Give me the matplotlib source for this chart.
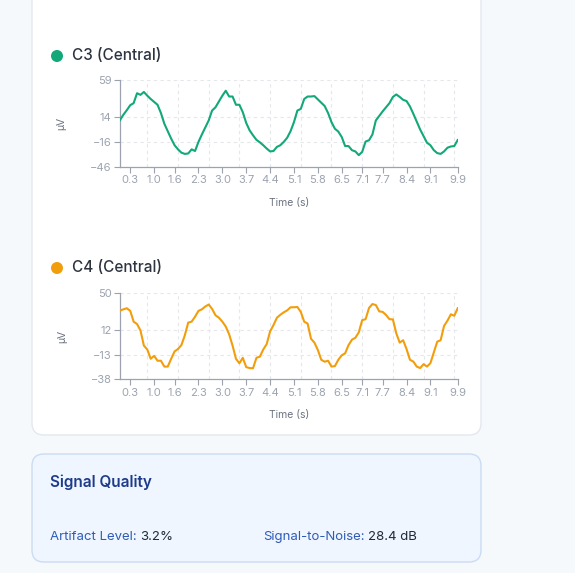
import matplotlib
matplotlib.use("Agg")
import matplotlib.pyplot as plt
from matplotlib.patches import FancyBboxPatch, Circle
from matplotlib.transforms import IdentityTransform
import numpy as np

# ---------------- data ----------------
time_s = np.round(np.arange(0, 100) * 0.1, 1)

c3_uv = [10.5, 17, 22.5, 28.5, 31, 43, 41, 44.5, 40, 36,
         32.5, 29, 19, 6, -3, -12, -20, -25, -29, -30.5,
         -30, -25, -27, -16, -7, 1.5, 10, 22, 26, 33,
         40, 46, 39, 39, 29, 29, 20, 7, -2, -8,
         -13.5, -16.5, -20, -24, -27.5, -27, -22, -20, -16, -11,
         -3, 8, 22, 24, 36, 39, 39, 39.5, 35.5, 31.5,
         27.5, 19, 8, 0, -3.5, -10, -21, -21, -26, -27.5,
         -32, -28, -15.5, -14, -7, 10, 15.5, 21, 26, 31,
         38.5, 41.5, 38.5, 35, 33.5, 27, 18, 8.5, -1, -9,
         -17, -20, -26, -29.5, -30.5, -27.5, -23, -21.5, -21, -13.7]

c4_uv = [32.3, 33.6, 34.7, 32, 21, 18.5, 12, -3.5, -7.5, -17,
         -14, -19, -19, -25, -25, -17, -9.5, -7, -3, 7,
         20, 21, 26, 32, 33.6, 36.5, 38.5, 34, 27.5, 25,
         21, 16, 8, -3.5, -17, -21.6, -16, -25.5, -26.5, -26.7,
         -16, -14.8, -7.5, -2, 11, 17.5, 25, 28, 30.5, 32.5,
         35.7, 35.7, 36, 31, 21, 19, 3.5, -0.5, -8, -18,
         -20, -19, -25, -24.5, -18, -13.5, -11.4, -3, 2.5, 4.5,
         10, 22.5, 23.5, 35, 39, 38, 31.5, 31, 27.8, 23.5,
         23.3, 9, -0.5, 2, -7, -18, -19.9, -25, -26.5, -22.5,
         -25, -21.5, -10.5, 0.5, 2, 16.6, 22, 28.5, 27, 34.7]

x_tick_labels = ["0.3", "1.0", "1.6", "2.3", "3.0", "3.7", "4.4", "5.1",
                 "5.8", "6.5", "7.1", "7.7", "8.4", "9.1", "9.9"]
c3_yticks = [-46, -16, 14, 59]
c4_yticks = [-38, -13, 12, 50]

channels = ["C3 (Central)", "C4 (Central)"]
channel_colors = ["#12a879", "#f29e0c"]

quality_title = "Signal Quality"
artifact_label, artifact_value = "Artifact Level:", "3.2%"
snr_label, snr_value = "Signal-to-Noise:", "28.4 dB"

# ---------------- figure ----------------
W, H = 575, 573
plt.rcParams["font.family"] = ["Inter", "DejaVu Sans"]
fig = plt.figure(figsize=(W / 100, H / 100), dpi=100)
fig.patch.set_facecolor("#f5f9fc")
IT = IdentityTransform()


def Y(py):
    return H - py


# main white card (top extends beyond the image)
card = FancyBboxPatch((32, Y(435)), 449, 460, boxstyle="round,pad=0,rounding_size=12",
                      transform=IT, facecolor="white", edgecolor="#e3e8ee", linewidth=1.0,
                      zorder=-10)
fig.add_artist(card)

# signal quality card
qcard = FancyBboxPatch((32, Y(562)), 449, 108, boxstyle="round,pad=0,rounding_size=12",
                       transform=IT, facecolor="#eff6ff", edgecolor="#c9dcf3", linewidth=1.0,
                       zorder=-10)
fig.add_artist(qcard)

grid_x = [0.8, 1.7, 2.6, 3.5, 4.4, 5.3, 6.2, 7.1, 8.0, 8.9, 9.8]
tick_gray = "#9ca3af"

panels = [
    (c3_uv, c3_yticks, 80, 166.7, 56),
    (c4_uv, c4_yticks, 293.3, 379.3, 268),
]

for (vals, yt, top_px, bot_px, title_py), name, col in zip(panels, channels, channel_colors):
    ax = fig.add_axes([120 / W, 1 - bot_px / H, 337.7 / W, (bot_px - top_px) / H])
    ax.set_facecolor("none")
    ax.plot(time_s, vals, color=col, lw=1.5, solid_joinstyle="round", zorder=3)
    ax.set_xlim(0, 9.9)
    ax.set_ylim(yt[0], yt[-1])
    ax.set_yticks(yt)
    ax.set_xticks([float(v) for v in x_tick_labels])
    ax.set_xticklabels(x_tick_labels)
    for v in yt[1:]:
        ax.axhline(v, color="#e5e7eb", lw=0.8, ls=(0, (3, 3)), zorder=1)
    for v in grid_x:
        ax.axvline(v, color="#e5e7eb", lw=0.8, ls=(0, (3, 3)), zorder=1)
    for s in ["top", "right"]:
        ax.spines[s].set_visible(False)
    for s in ["left", "bottom"]:
        ax.spines[s].set_color(tick_gray)
        ax.spines[s].set_linewidth(0.9)
    ax.tick_params(axis="both", colors=tick_gray, labelcolor=tick_gray, labelsize=8,
                   length=4, width=0.8, pad=2)
    ax.set_xlabel("Time (s)", color="#6b7280", fontsize=7.5, labelpad=9)
    ax.set_ylabel("μV", color="#6b7280", fontsize=7.5, labelpad=17)

    # header dot + title
    fig.add_artist(Circle((57, Y(title_py)), 6, transform=IT, facecolor=col, edgecolor="none"))
    fig.text(72, Y(title_py), name, transform=IT, fontsize=11, fontweight="medium",
             color="#2d3440", va="center", ha="left")

# signal quality texts
fig.text(50, Y(482), quality_title, transform=IT, fontsize=11, fontweight="semibold",
         color="#1e3a8a", va="center", ha="left")

renderer = fig.canvas.get_renderer()


def label_value(px, py, lab, val):
    t = fig.text(px, Y(py), lab, transform=IT, fontsize=9.5, color="#2f5bb7",
                 va="center", ha="left")
    bb = t.get_window_extent(renderer=renderer)
    fig.text(bb.x1 + 4, Y(py), val, transform=IT, fontsize=9.5, color="#1f2937",
             va="center", ha="left")


label_value(50, 537, artifact_label, artifact_value)
label_value(263, 537, snr_label, snr_value)

fig.savefig("out.png", dpi=100, facecolor=fig.get_facecolor())
